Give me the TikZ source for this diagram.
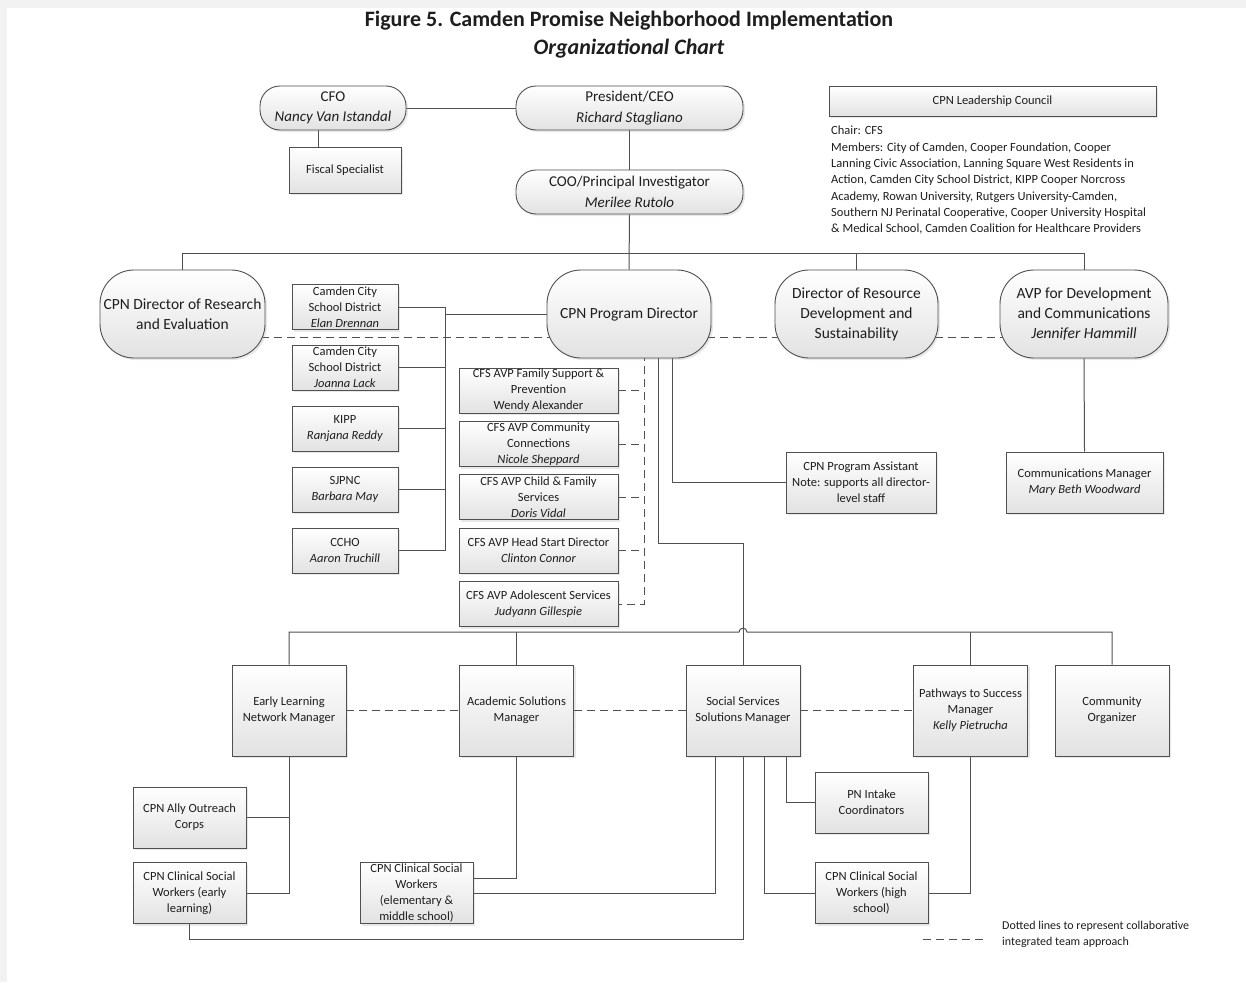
\documentclass[tikz,border=0pt]{standalone}
\usepackage{fontspec}
\setmainfont{Carlito}
\usetikzlibrary{shadows,backgrounds,calc}
\definecolor{lc}{HTML}{505050}
\definecolor{bgb}{HTML}{E2E2E2}
\definecolor{tc}{HTML}{1E1E1E}
\newcommand{\bxf}{\fontsize{12.5}{16}\selectfont}
\newcommand{\topf}{\fontsize{15}{20.5}\selectfont}
\newcommand{\bigf}{\fontsize{15.5}{20}\selectfont}
\newcommand{\ttlf}{\fontsize{22}{26}\selectfont\bfseries}
\begin{document}
\begin{tikzpicture}[x=1pt,y=-1pt,
  every node/.style={text=tc},
  conn/.style={draw=lc, line width=1pt},
  dsh/.style={conn, dash pattern=on 8pt off 5pt},
  box/.style={draw=lc, line width=0.9pt, top color=white, bottom color=bgb,
    drop shadow={shadow xshift=2pt,shadow yshift=-2pt,opacity=0.18},
    align=center, inner sep=0pt, font=\bxf},
  sz/.style 2 args={minimum width=#1pt, minimum height=#2pt},
  rtop/.style={box, rounded corners=20pt, font=\topf},
  rbig/.style={box, rounded corners=34pt, font=\bigf},
]
\useasboundingbox (0,0) rectangle (1246,982);

% title
\node[font=\ttlf] (title1) at (629,21) {Figure 5. Camden Promise Neighborhood Implementation};
\node[font=\ttlf\itshape] (title2) at (629,49) {Organizational Chart};

% top level
\node[rtop, sz={146}{44}] (cfo) at (333,108) {CFO\\\textit{Nancy Van Istandal}};
\node[rtop, sz={227}{44}] (ceo) at (629.5,108) {President/CEO\\\textit{Richard Stagliano}};
\node[rtop, sz={227}{44}] (coo) at (629.5,192) {COO/Principal Investigator\\\textit{Merilee Rutolo}};
\node[box, sz={112}{46}] (fiscal) at (345,170) {Fiscal Specialist};
\node[box, sz={327}{30}] (council) at (992.5,101) {CPN Leadership Council};
\node[align=left, anchor=north west, inner sep=0pt, font=\fontsize{12.5}{16.3}\selectfont] (members) at (831,126)
 {Chair: CFS\\
  Members: City of Camden, Cooper Foundation, Cooper\\
  Lanning Civic Association, Lanning Square West Residents in\\
  Action, Camden City School District, KIPP Cooper Norcross\\
  Academy, Rowan University, Rutgers University-Camden,\\
  Southern NJ Perinatal Cooperative, Cooper University Hospital\\
  \& Medical School, Camden Coalition for Healthcare Providers};

% directors
\node[rbig, sz={165}{88}] (research) at (182.5,314) {CPN Director of Research\\and Evaluation};
\node[rbig, sz={164}{88}] (pd) at (629,314) {CPN Program Director};
\node[rbig, sz={163}{88}] (resource) at (856.5,314) {Director of Resource\\Development and\\Sustainability};
\node[rbig, sz={168}{88}] (avp) at (1084,314) {AVP for Development\\and Communications\\\textit{Jennifer Hammill}};

% partners
\node[box, sz={106}{45}] (p1) at (345,307) {Camden City\\School District\\\textit{Elan Drennan}};
\node[box, sz={106}{45}] (p2) at (345,367.5) {Camden City\\School District\\\textit{Joanna Lack}};
\node[box, sz={106}{45}] (p3) at (345,428.5) {KIPP\\\textit{Ranjana Reddy}};
\node[box, sz={106}{45}] (p4) at (345,489.5) {SJPNC\\\textit{Barbara May}};
\node[box, sz={106}{45}] (p5) at (345,550.5) {CCHO\\\textit{Aaron Truchill}};

% CFS AVPs
\node[box, sz={159}{45}] (c1) at (538.5,390.5) {CFS AVP Family Support \&\\Prevention\\Wendy Alexander};
\node[box, sz={159}{45}] (c2) at (538.5,444) {CFS AVP Community\\Connections\\\textit{Nicole Sheppard}};
\node[box, sz={159}{45}] (c3) at (538.5,497) {CFS AVP Child \& Family\\Services\\\textit{Doris Vidal}};
\node[box, sz={159}{45}] (c4) at (538.5,550.5) {CFS AVP Head Start Director\\\textit{Clinton Connor}};
\node[box, sz={159}{45}] (c5) at (538.5,604) {CFS AVP Adolescent Services\\\textit{Judyann Gillespie}};

\node[box, sz={150}{61}] (assistant) at (861,482.5) {CPN Program Assistant\\Note: supports all director-\\level staff};
\node[box, sz={157}{61}] (comm) at (1084.5,482.5) {Communications Manager\\\textit{Mary Beth Woodward}};

% managers
\node[box, sz={114}{91}] (early) at (289,710.5) {Early Learning\\Network Manager};
\node[box, sz={114}{91}] (academic) at (516.5,710.5) {Academic Solutions\\Manager};
\node[box, sz={114}{91}] (social) at (743,710.5) {Social Services\\Solutions Manager};
\node[box, sz={114}{91}] (pathways) at (970.5,710.5) {Pathways to Success\\Manager\\\textit{Kelly Pietrucha}};
\node[box, sz={114}{91}] (community) at (1112,710.5) {Community\\Organizer};

\node[box, sz={113}{61}] (ally) at (189.5,817.5) {CPN Ally Outreach\\Corps};
\node[box, sz={113}{61}] (cswe) at (189.5,893) {CPN Clinical Social\\Workers (early\\learning)};
\node[box, sz={113}{61}] (cswm) at (416.5,893) {CPN Clinical Social\\Workers\\(elementary \&\\middle school)};
\node[box, sz={113}{61}] (intake) at (871.5,802.5) {PN Intake\\Coordinators};
\node[box, sz={113}{61}] (cswh) at (871.5,893) {CPN Clinical Social\\Workers (high\\school)};

% legend
\node[align=left, anchor=west, inner sep=0pt, font=\fontsize{12}{16}\selectfont] (legendtext) at (1002,934.5)
 {Dotted lines to represent collaborative\\integrated team approach};
\coordinate (lg1) at (923,939);
\coordinate (lg2) at (985,939);

% helper coordinates
\coordinate (topbus) at (0,253);
\coordinate (pbus) at (445,314);
\coordinate (j1) at (0,543);
\coordinate (bus) at (0,632);
\coordinate (botline) at (0,939);
\coordinate (cfsx) at ([xshift=15pt]pd.center);

\begin{pgfonlayer}{background}
\fill[white] (0,0) rectangle (1246,982);
\fill[gray!10] (0,0) rectangle (1246,8);
\fill[gray!10] (0,0) rectangle (7,982);

\draw[conn] (cfo.east) -- (ceo.west);
\draw[conn] ([xshift=-15pt]cfo.south) -- ([xshift=-15pt]cfo.south |- fiscal.north);
\draw[conn] (ceo.south) -- (coo.north);
\draw[conn] (coo.south) -- (pd.north);
\draw[conn] (research.north) -- (research.north |- topbus) -- (avp.north |- topbus) -- (avp.north);
\draw[conn] (resource.north |- topbus) -- (resource.north);

\draw[dsh] ([yshift=-23pt]research.center) -- ([yshift=-23pt]pd.center);
\draw[dsh] ([yshift=-23pt]pd.center) -- ([yshift=-23pt]resource.center);
\draw[dsh] ([yshift=-23pt]resource.center) -- ([yshift=-23pt]avp.center);

% partners bracket
\draw[conn] (p1.east) -| (pbus |- p5.east) -- (p5.east);
\draw[conn] (p2.east) -- (p2.east -| pbus);
\draw[conn] (p3.east) -- (p3.east -| pbus);
\draw[conn] (p4.east) -- (p4.east -| pbus);
\draw[conn] (pbus) -- (pd.center);

% CFS dashed
\draw[dsh] (cfsx) |- (c5.east);
\draw[dsh] (c1.east) -- (c1.east -| cfsx);
\draw[dsh] (c2.east) -- (c2.east -| cfsx);
\draw[dsh] (c3.east) -- (c3.east -| cfsx);
\draw[dsh] (c4.east) -- (c4.east -| cfsx);

% PD solid
\draw[conn] ([xshift=29pt]pd.center) |- (social.north |- j1) -- (social.north);
\draw[conn] ([xshift=43pt]pd.center) |- (assistant.west);
\draw[conn] (avp.south) -- (comm.north);

% bus
\draw[conn] (early.north) -- (early.north |- bus) -- ([xshift=-4pt]social.north |- bus)
  .. controls ([xshift=-4pt,yshift=5pt]social.north |- bus) and ([xshift=4pt,yshift=5pt]social.north |- bus) ..
  ([xshift=4pt]social.north |- bus) -- (community.north |- bus) -- (community.north);
\draw[conn] (academic.north |- bus) -- (academic.north);
\draw[conn] (pathways.north |- bus) -- (pathways.north);

% bottom dashed
\draw[dsh] (early.east) -- (academic.west);
\draw[dsh] (academic.east) -- (social.west);
\draw[dsh] (social.east) -- (pathways.west);

% subordinates
\draw[conn] (early.south) |- (cswe.east);
\draw[conn] (ally.east) -- (ally.east -| early.south);
\draw[conn] (academic.south) |- ([yshift=15pt]cswm.east);
\draw[conn] ([xshift=-28pt]social.south) |- (cswm.east);
\draw[conn] (social.south) |- (cswe.south |- botline) -- (cswe.south);
\draw[conn] ([xshift=21pt]social.south) |- (cswh.west);
\draw[conn] ([xshift=43pt]social.south) |- (intake.west);
\draw[conn] (pathways.south) |- (cswh.east);

\draw[dsh] (lg1) -- (lg2);
\end{pgfonlayer}
\end{tikzpicture}
\end{document}
